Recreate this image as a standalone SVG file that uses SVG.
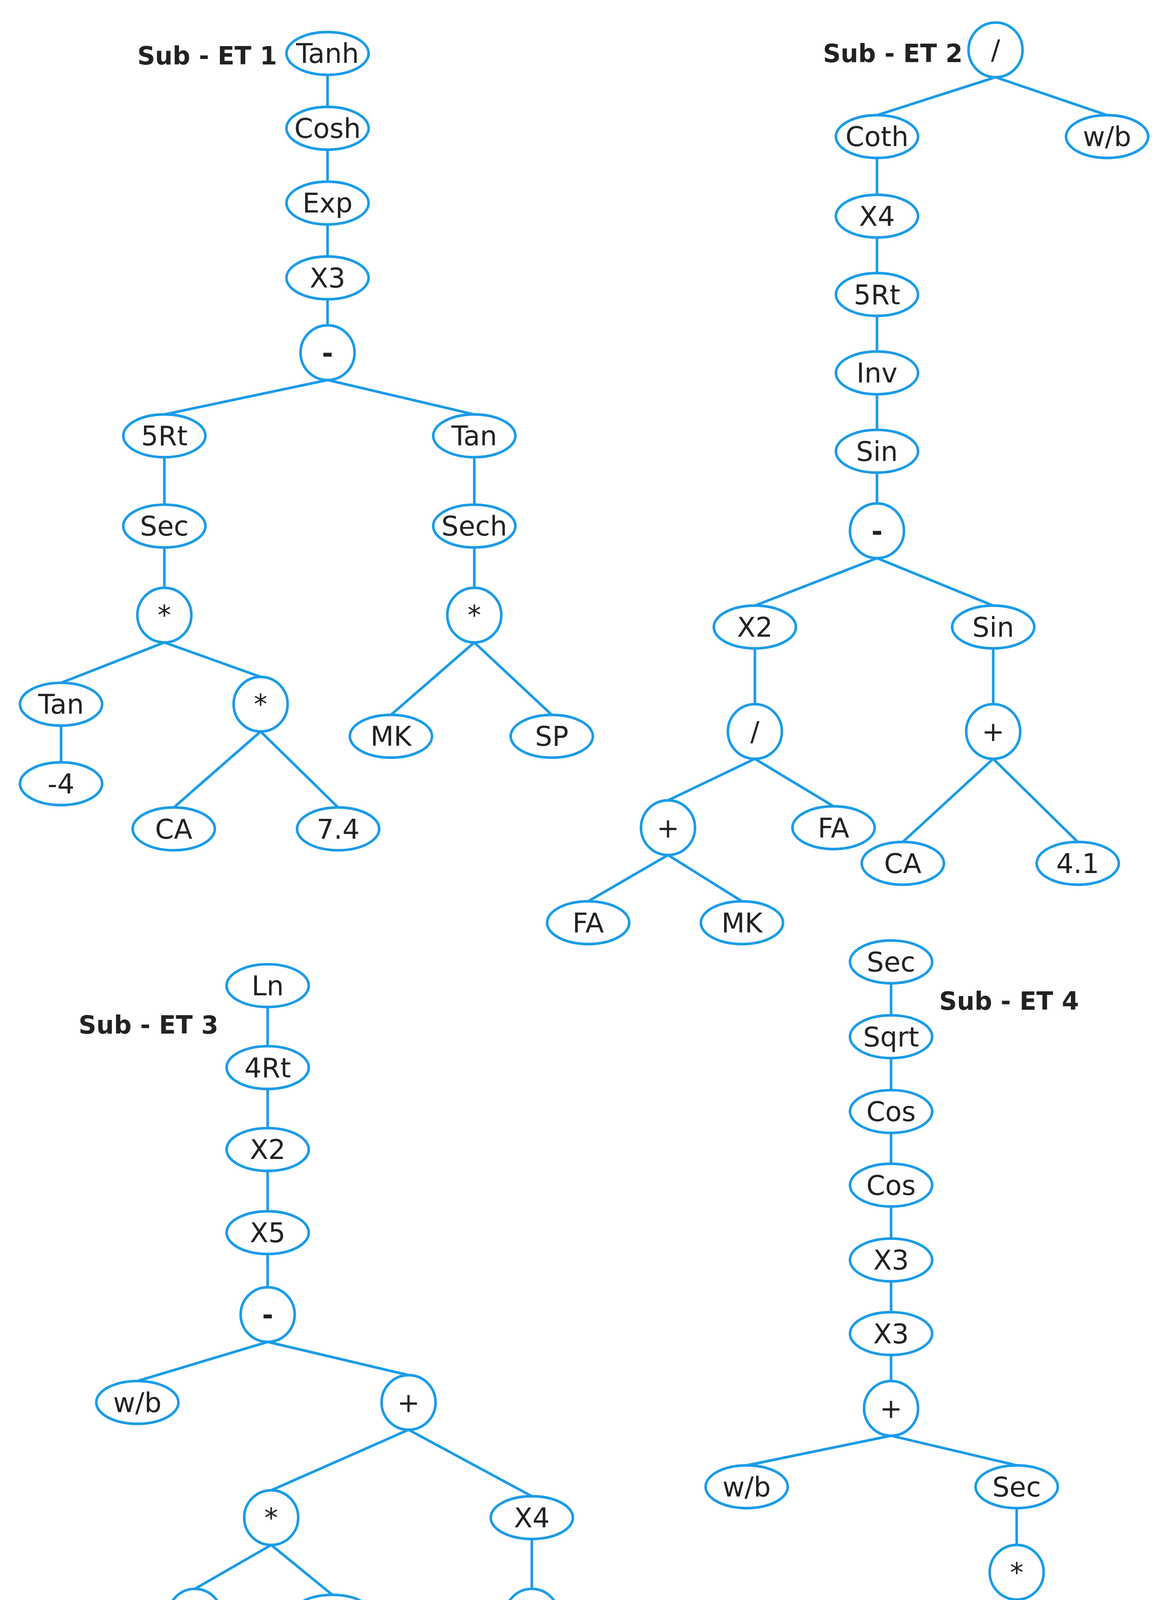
<svg xmlns="http://www.w3.org/2000/svg" width="3006" height="4768" viewBox="0 0 3006 4768">
<style>
.n ellipse,.n circle{fill:#fff;stroke:#1a9be8;stroke-width:2.2}
.n text{font-family:"DejaVu Sans","Liberation Sans",sans-serif;font-size:23px;fill:#222;text-anchor:middle;dominant-baseline:central}
.e line{stroke:#1a9be8;stroke-width:2.2}
.lbl{font-family:"DejaVu Sans","Liberation Sans",sans-serif;font-size:21px;font-weight:bold;fill:#222;dominant-baseline:central}
</style>
<rect width="3006" height="4768" fill="#fff"/>
<g transform="scale(3.006,3.04)">
<g id="connectors" class="e">
<line x1="279" y1="63" x2="279" y2="90"/><line x1="279" y1="126" x2="279" y2="153"/><line x1="279" y1="189" x2="279" y2="216"/><line x1="279" y1="252" x2="279" y2="274"/>
<line x1="279" y1="320" x2="140" y2="349"/><line x1="279" y1="320" x2="404" y2="349"/><line x1="140" y1="385" x2="140" y2="425"/><line x1="404" y1="385" x2="404" y2="425"/>
<line x1="140" y1="461" x2="140" y2="495"/><line x1="404" y1="461" x2="404" y2="495"/><line x1="140" y1="541" x2="52" y2="575"/><line x1="140" y1="541" x2="222" y2="570"/>
<line x1="52" y1="611" x2="52" y2="642"/><line x1="222" y1="616" x2="148" y2="680"/><line x1="222" y1="616" x2="288" y2="680"/><line x1="404" y1="541" x2="333" y2="602"/><line x1="404" y1="541" x2="470" y2="602"/>
<line x1="848" y1="65" x2="747" y2="97"/><line x1="848" y1="65" x2="943" y2="97"/><line x1="747" y1="133" x2="747" y2="164"/><line x1="747" y1="200" x2="747" y2="230"/>
<line x1="747" y1="266" x2="747" y2="296"/><line x1="747" y1="332" x2="747" y2="362"/><line x1="747" y1="398" x2="747" y2="424"/><line x1="747" y1="470" x2="643" y2="510"/>
<line x1="747" y1="470" x2="846" y2="510"/><line x1="643" y1="546" x2="643" y2="593"/><line x1="846" y1="546" x2="846" y2="593"/><line x1="643" y1="639" x2="569" y2="674"/>
<line x1="643" y1="639" x2="710" y2="679"/><line x1="846" y1="639" x2="769" y2="709"/><line x1="846" y1="639" x2="918" y2="709"/><line x1="569" y1="720" x2="501" y2="759"/><line x1="569" y1="720" x2="632" y2="759"/>
<line x1="228" y1="848" x2="228" y2="881"/><line x1="228" y1="917" x2="228" y2="950"/><line x1="228" y1="986" x2="228" y2="1020"/><line x1="228" y1="1056" x2="228" y2="1084"/>
<line x1="228" y1="1130" x2="117" y2="1163"/><line x1="228" y1="1130" x2="348" y2="1158"/><line x1="348" y1="1204" x2="231" y2="1255"/><line x1="348" y1="1204" x2="453" y2="1260"/>
<line x1="231" y1="1301" x2="166" y2="1338"/><line x1="231" y1="1301" x2="283" y2="1343"/><line x1="453" y1="1296" x2="453" y2="1338"/><line x1="166" y1="1384" x2="93" y2="1421"/>
<line x1="166" y1="1384" x2="233" y2="1421"/><line x1="453" y1="1384" x2="389" y2="1443"/><line x1="453" y1="1384" x2="517" y2="1443"/><line x1="93" y1="1457" x2="93" y2="1496"/>
<line x1="759" y1="828" x2="759" y2="855"/><line x1="759" y1="891" x2="759" y2="918"/><line x1="759" y1="954" x2="759" y2="980"/><line x1="759" y1="1016" x2="759" y2="1043"/>
<line x1="759" y1="1079" x2="759" y2="1105"/><line x1="759" y1="1141" x2="759" y2="1163"/><line x1="759" y1="1209" x2="636" y2="1234"/><line x1="759" y1="1209" x2="866" y2="1234"/>
<line x1="866" y1="1270" x2="866" y2="1301"/><line x1="866" y1="1347" x2="784" y2="1367"/><line x1="866" y1="1347" x2="936" y2="1367"/><line x1="784" y1="1403" x2="784" y2="1436"/>
<line x1="936" y1="1403" x2="936" y2="1440"/><line x1="784" y1="1482" x2="712" y2="1520"/><line x1="784" y1="1482" x2="851" y2="1520"/>
</g>
<text class="lbl" x="236" y="47" text-anchor="end">Sub - ET 1</text>
<text class="lbl" x="820" y="45" text-anchor="end">Sub - ET 2</text>
<text class="lbl" x="186" y="863" text-anchor="end">Sub - ET 3</text>
<text class="lbl" x="800" y="843">Sub - ET 4</text>
<g class="n">
<g id="t1_tanh"><ellipse cx="279" cy="45" rx="35" ry="18"/><text x="279" y="45">Tanh</text></g>
<g id="t1_cosh"><ellipse cx="279" cy="108" rx="35" ry="18"/><text x="279" y="108">Cosh</text></g>
<g id="t1_exp"><ellipse cx="279" cy="171" rx="35" ry="18"/><text x="279" y="171">Exp</text></g>
<g id="t1_x3"><ellipse cx="279" cy="234" rx="35" ry="18"/><text x="279" y="234">X3</text></g>
<g id="t1_minus"><circle cx="279" cy="297" r="23"/><text x="279" y="297" font-weight="bold">-</text></g>
<g id="t1_5rt"><ellipse cx="140" cy="367" rx="35" ry="18"/><text x="140" y="367">5Rt</text></g>
<g id="t1_tan"><ellipse cx="404" cy="367" rx="35" ry="18"/><text x="404" y="367">Tan</text></g>
<g id="t1_sec"><ellipse cx="140" cy="443" rx="35" ry="18"/><text x="140" y="443">Sec</text></g>
<g id="t1_sech"><ellipse cx="404" cy="443" rx="35" ry="18"/><text x="404" y="443">Sech</text></g>
<g id="t1_mul1"><circle cx="140" cy="518" r="23"/><text x="140" y="518">*</text></g>
<g id="t1_mul2"><circle cx="404" cy="518" r="23"/><text x="404" y="518">*</text></g>
<g id="t1_tan2"><ellipse cx="52" cy="593" rx="35" ry="18"/><text x="52" y="593">Tan</text></g>
<g id="t1_mul3"><circle cx="222" cy="593" r="23"/><text x="222" y="593">*</text></g>
<g id="t1_m4"><ellipse cx="52" cy="660" rx="35" ry="18"/><text x="52" y="660">-4</text></g>
<g id="t1_ca"><ellipse cx="148" cy="698" rx="35" ry="18"/><text x="148" y="698">CA</text></g>
<g id="t1_74"><ellipse cx="288" cy="698" rx="35" ry="18"/><text x="288" y="698">7.4</text></g>
<g id="t1_mk"><ellipse cx="333" cy="620" rx="35" ry="18"/><text x="333" y="620">MK</text></g>
<g id="t1_sp"><ellipse cx="470" cy="620" rx="35" ry="18"/><text x="470" y="620">SP</text></g>

<g id="t2_div"><circle cx="848" cy="42" r="23"/><text x="848" y="42">/</text></g>
<g id="t2_coth"><ellipse cx="747" cy="115" rx="35" ry="18"/><text x="747" y="115">Coth</text></g>
<g id="t2_wb"><ellipse cx="943" cy="115" rx="35" ry="18"/><text x="943" y="115">w/b</text></g>
<g id="t2_x4"><ellipse cx="747" cy="182" rx="35" ry="18"/><text x="747" y="182">X4</text></g>
<g id="t2_5rt"><ellipse cx="747" cy="248" rx="35" ry="18"/><text x="747" y="248">5Rt</text></g>
<g id="t2_inv"><ellipse cx="747" cy="314" rx="35" ry="18"/><text x="747" y="314">Inv</text></g>
<g id="t2_sin"><ellipse cx="747" cy="380" rx="35" ry="18"/><text x="747" y="380">Sin</text></g>
<g id="t2_minus"><circle cx="747" cy="447" r="23"/><text x="747" y="447" font-weight="bold">-</text></g>
<g id="t2_x2"><ellipse cx="643" cy="528" rx="35" ry="18"/><text x="643" y="528">X2</text></g>
<g id="t2_sin2"><ellipse cx="846" cy="528" rx="35" ry="18"/><text x="846" y="528">Sin</text></g>
<g id="t2_div2"><circle cx="643" cy="616" r="23"/><text x="643" y="616">/</text></g>
<g id="t2_plus"><circle cx="846" cy="616" r="23"/><text x="846" y="616">+</text></g>
<g id="t2_plus2"><circle cx="569" cy="697" r="23"/><text x="569" y="697">+</text></g>
<g id="t2_fa"><ellipse cx="710" cy="697" rx="35" ry="18"/><text x="710" y="697">FA</text></g>
<g id="t2_ca"><ellipse cx="769" cy="727" rx="35" ry="18"/><text x="769" y="727">CA</text></g>
<g id="t2_41"><ellipse cx="918" cy="727" rx="35" ry="18"/><text x="918" y="727">4.1</text></g>
<g id="t2_fa2"><ellipse cx="501" cy="777" rx="35" ry="18"/><text x="501" y="777">FA</text></g>
<g id="t2_mk"><ellipse cx="632" cy="777" rx="35" ry="18"/><text x="632" y="777">MK</text></g>

<g id="t3_ln"><ellipse cx="228" cy="830" rx="35" ry="18"/><text x="228" y="830">Ln</text></g>
<g id="t3_4rt"><ellipse cx="228" cy="899" rx="35" ry="18"/><text x="228" y="899">4Rt</text></g>
<g id="t3_x2"><ellipse cx="228" cy="968" rx="35" ry="18"/><text x="228" y="968">X2</text></g>
<g id="t3_x5"><ellipse cx="228" cy="1038" rx="35" ry="18"/><text x="228" y="1038">X5</text></g>
<g id="t3_minus"><circle cx="228" cy="1107" r="23"/><text x="228" y="1107" font-weight="bold">-</text></g>
<g id="t3_wb"><ellipse cx="117" cy="1181" rx="35" ry="18"/><text x="117" y="1181">w/b</text></g>
<g id="t3_plus"><circle cx="348" cy="1181" r="23"/><text x="348" y="1181">+</text></g>
<g id="t3_mul"><circle cx="231" cy="1278" r="23"/><text x="231" y="1278">*</text></g>
<g id="t3_x4"><ellipse cx="453" cy="1278" rx="35" ry="18"/><text x="453" y="1278">X4</text></g>
<g id="t3_minus2"><circle cx="166" cy="1361" r="23"/><text x="166" y="1361" font-weight="bold">-</text></g>
<g id="t3_days"><ellipse cx="283" cy="1361" rx="35" ry="18"/><text x="283" y="1361">Days</text></g>
<g id="t3_div"><circle cx="453" cy="1361" r="23"/><text x="453" y="1361">/</text></g>
<g id="t3_sin"><ellipse cx="93" cy="1439" rx="35" ry="18"/><text x="93" y="1439">Sin</text></g>
<g id="t3_m77"><ellipse cx="233" cy="1439" rx="35" ry="18"/><text x="233" y="1439">-7.7</text></g>
<g id="t3_sp"><ellipse cx="389" cy="1461" rx="35" ry="18"/><text x="389" y="1461">SP</text></g>
<g id="t3_m81"><ellipse cx="517" cy="1461" rx="35" ry="18"/><text x="517" y="1461">-8.1</text></g>
<g id="t3_fa"><ellipse cx="93" cy="1514" rx="35" ry="18"/><text x="93" y="1514">FA</text></g>

<g id="t4_sec"><ellipse cx="759" cy="810" rx="35" ry="18"/><text x="759" y="810">Sec</text></g>
<g id="t4_sqrt"><ellipse cx="759" cy="873" rx="35" ry="18"/><text x="759" y="873">Sqrt</text></g>
<g id="t4_cos1"><ellipse cx="759" cy="936" rx="35" ry="18"/><text x="759" y="936">Cos</text></g>
<g id="t4_cos2"><ellipse cx="759" cy="998" rx="35" ry="18"/><text x="759" y="998">Cos</text></g>
<g id="t4_x3a"><ellipse cx="759" cy="1061" rx="35" ry="18"/><text x="759" y="1061">X3</text></g>
<g id="t4_x3b"><ellipse cx="759" cy="1123" rx="35" ry="18"/><text x="759" y="1123">X3</text></g>
<g id="t4_plus"><circle cx="759" cy="1186" r="23"/><text x="759" y="1186">+</text></g>
<g id="t4_wb"><ellipse cx="636" cy="1252" rx="35" ry="18"/><text x="636" y="1252">w/b</text></g>
<g id="t4_sec2"><ellipse cx="866" cy="1252" rx="35" ry="18"/><text x="866" y="1252">Sec</text></g>
<g id="t4_mul"><circle cx="866" cy="1324" r="23"/><text x="866" y="1324">*</text></g>
<g id="t4_sec3"><ellipse cx="784" cy="1385" rx="35" ry="18"/><text x="784" y="1385">Sec</text></g>
<g id="t4_inv"><ellipse cx="936" cy="1385" rx="35" ry="18"/><text x="936" y="1385">Inv</text></g>
<g id="t4_plus2"><circle cx="784" cy="1459" r="23"/><text x="784" y="1459">+</text></g>
<g id="t4_m171"><ellipse cx="936" cy="1458" rx="35" ry="18"/><text x="936" y="1458">-171</text></g>
<g id="t4_sp"><ellipse cx="712" cy="1538" rx="35" ry="18"/><text x="712" y="1538">SP</text></g>
<g id="t4_786"><ellipse cx="851" cy="1538" rx="35" ry="18"/><text x="851" y="1538">7.86</text></g>
</g>
</g>
</svg>
